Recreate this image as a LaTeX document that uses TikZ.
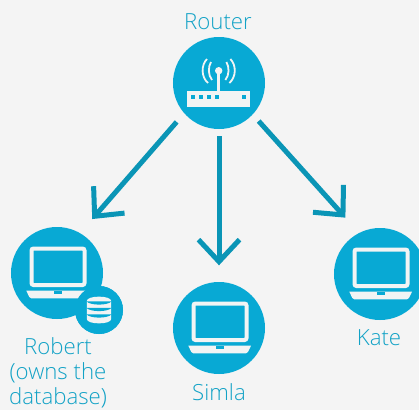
\documentclass[tikz,border=0pt]{standalone}
\usepackage{fontspec}
\usetikzlibrary{arrows.meta}
\setmainfont{Open Sans Light}
\definecolor{bgc}{HTML}{F4F4F4}
\definecolor{disc}{HTML}{08A9D4}
\definecolor{arrowc}{HTML}{0A95B6}
\definecolor{labelc}{HTML}{12A2C6}
\definecolor{iconc}{HTML}{F2F4F4}
\tikzset{
  x=1bp,y=-1bp,
  disc/.style={circle,fill=disc,draw=none,inner sep=0pt,minimum size=92bp},
  badge/.style={circle,fill=disc,draw=none,inner sep=0pt,minimum size=48bp},
  lbl/.style={text=labelc,font=\fontsize{22.3}{25}\selectfont,align=center,inner sep=0pt},
  flow/.style={draw=arrowc,line width=5bp,-{Straight Barb[length=22bp,width=41bp,line width=5bp]}},
  pics/laptop/.style={code={
    \draw[iconc,line width=4bp,rounded corners=2bp] (-25.5,-24.5) rectangle (27.5,12);
    \fill[iconc] (-30.7,17.7) -- (32,17.7) -- (29,24) .. controls (28.5,25) and (28,25.3) .. (27,25.3) -- (-25.7,25.3) .. controls (-26.7,25.3) and (-27.2,25) .. (-27.7,24) -- cycle;
    \fill[disc] (-3.2,17.7) rectangle (4.5,21.3);
  }},
}
\begin{document}
\begin{tikzpicture}
\useasboundingbox (0,0) rectangle (419,410);
\clip (0,0) rectangle (419,410);
\fill[bgc] (0,0) rectangle (419,410);

\node[disc] (router) at (219,83) {};
\node[disc] (robert) at (57,273) {};
\node[disc] (simla) at (219,328) {};
\node[disc] (kate) at (380,274) {};
\node[badge] (dbbadge) at (99,310) {};

\draw[flow,shorten <=11.4bp,shorten >=18.5bp] (router.221.4) -- (robert.60.3);
\draw[flow,shorten <=7bp,shorten >=16.5bp] (router.south) -- (simla.north);
\draw[flow,shorten <=8.8bp,shorten >=20.4bp] (router.317) -- (kate.117.8);

% router icon
\begin{scope}[shift={(router.center)}]
  \fill[iconc] (-31.7,8) rectangle (31,24.3);
  \foreach \px in {-25.7,-18,-10,-2.3,25}
    \fill[disc] (\px-1.9,12.4) rectangle (\px+1.9,16.2);
  \draw[iconc,line width=3.4bp] (-0.3,-12) -- (-0.3,9);
  \fill[iconc] (-0.3,-12.3) circle (3.7);
  \draw[iconc,line width=1.8bp] (-8,-21) .. controls (-11,-16) and (-11,-8) .. (-7,-3);
  \draw[iconc,line width=1.8bp] (7.4,-21) .. controls (10.4,-16) and (10.4,-8) .. (6.4,-3);
  \draw[iconc,line width=1.8bp] (-12,-24) .. controls (-18,-18) and (-18,-6) .. (-11,0);
  \draw[iconc,line width=1.8bp] (11.4,-24) .. controls (17.4,-18) and (17.4,-6) .. (10.4,0);
\end{scope}

\pic at (robert.center) {laptop};
\pic at (simla.center) {laptop};
\pic at (kate.center) {laptop};
\node[badge] at (dbbadge.center) {};

% database icon
\begin{scope}[shift={(dbbadge.center)}]
  \fill[iconc] (-12.2,-9) .. controls (-12.2,-14.8) and (12.2,-14.8) .. (12.2,-9)
    -- (12.2,9) .. controls (12.2,14.8) and (-12.2,14.8) .. (-12.2,9) -- cycle;
  \foreach \py in {-6.5,0,6.5}
    \draw[disc,line width=1.3bp] (-12.6,\py-2.2) .. controls (-9,\py+2.2) and (9,\py+2.2) .. (12.6,\py-2.2);
\end{scope}

\node[lbl] (routerlabel) at (218,22) {Router};
\node[lbl] (robertlabel) at (58,372.5) {Robert\\(owns the\\database)};
\node[lbl] (simlalabel) at (219,392) {Simla};
\node[lbl] (katelabel) at (379,338) {Kate};
\end{tikzpicture}
\end{document}
